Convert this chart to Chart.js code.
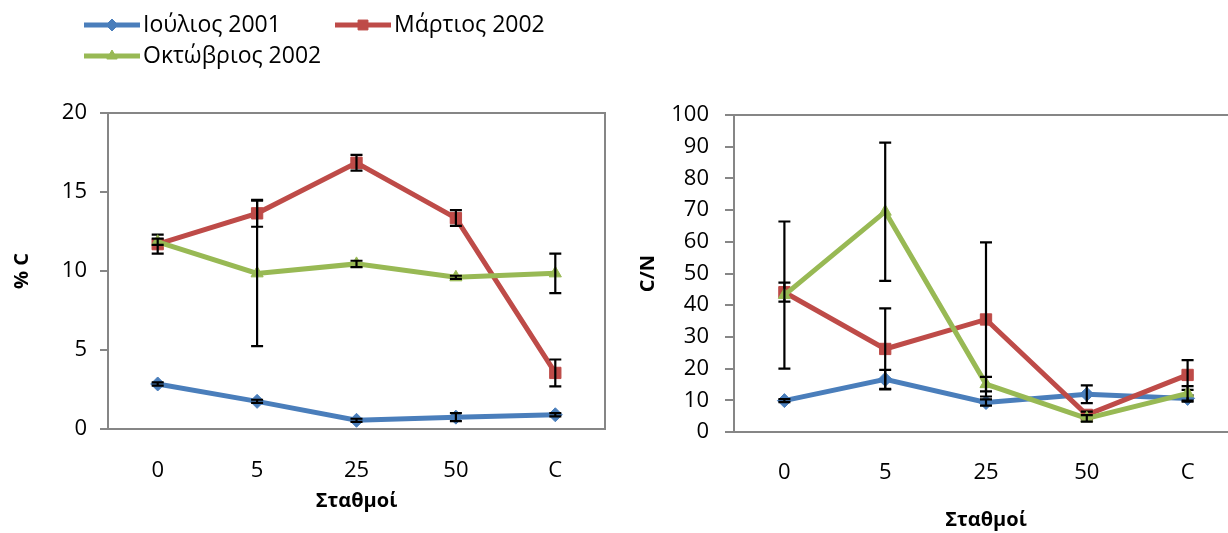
<!DOCTYPE html>
<html>
<head>
<meta charset="utf-8">
<script src="https://cdn.jsdelivr.net/npm/chart.js@4.4.0/dist/chart.umd.min.js"></script>
<style>
  html, body { margin: 0; padding: 0; background: #fff; overflow: hidden; width: 1228px; height: 533px; }
  #wrapC  { position: absolute; left: 0;     top: 0; width: 614px; height: 533px; }
  #wrapCN { position: absolute; left: 614px; top: 0; width: 640px; height: 533px; }
</style>
</head>
<body>
<div id="wrapC"><canvas id="chartC" width="614" height="533"></canvas></div>
<div id="wrapCN"><canvas id="chartCN" width="640" height="533"></canvas></div>
<script>
// Stations along the transect
const stations = ['0', '5', '25', '50', 'C'];
const seriesNames = ['Ιούλιος 2001', 'Μάρτιος 2002', 'Οκτώβριος 2002'];

// Organic carbon (% C)
const carbonJul01 = [2.85, 1.75, 0.55, 0.75, 0.9];
const carbonMar02 = [11.7, 13.65, 16.85, 13.35, 3.55];
const carbonOct02 = [11.85, 9.85, 10.45, 9.6, 9.85];
const carbonJul01Err = [0.1, 0.1, 0.1, 0.25, 0.1];
const carbonMar02Err = [0.6, 0.85, 0.5, 0.5, 0.85];
const carbonOct02Err = [0.2, 4.6, 0.2, 0.1, 1.25];

// C/N ratio
const cnJul01 = [9.9, 16.6, 9.3, 11.9, 10.6];
const cnMar02 = [44.1, 26.2, 35.5, 5.4, 18.0];
const cnOct02 = [43.2, 69.5, 15.1, 4.3, 12.2];
const cnJul01Err = [0.5, 3.0, 1.0, 2.8, 1.0];
const cnMar02Err = [3.0, 12.8, 24.3, 1.0, 4.7];
const cnOct02Err = [23.2, 21.8, 2.3, 1.0, 2.3];

// Axis ranges
const carbonTicks = { min: 0, max: 20, step: 5 };
const cnTicks = { min: 0, max: 100, step: 10 };

const COLORS = ['#4A7EBB', '#BE4B48', '#98B954'];
const POINT_STYLES = ['rectRot', 'rect', 'triangle'];
const POINT_RADII = [7, 8, 7];
const AXIS_GREY = '#868686';
const FONT = "'Open Sans', 'Noto Sans', sans-serif";

Chart.defaults.font.family = FONT;
Chart.defaults.color = '#000';

function makeDatasets(values, errors) {
  return values.map((v, i) => ({
    label: seriesNames[i],
    data: v,
    errors: errors[i],
    borderColor: COLORS[i],
    backgroundColor: COLORS[i],
    borderWidth: 5,
    pointStyle: POINT_STYLES[i],
    pointRadius: POINT_RADII[i],
    pointBorderWidth: 1,
    pointBorderColor: COLORS[i],
    pointBackgroundColor: COLORS[i],
    tension: 0,
    order: 3 - i
  }));
}

// Vertical error bars, drawn together with each series
const errorBarPlugin = {
  id: 'errorBars',
  afterDatasetDraw(chart, args) {
    const ds = chart.data.datasets[args.index];
    if (!ds.errors) return;
    const y = chart.scales.y;
    const ctx = chart.ctx;
    ctx.save();
    ctx.strokeStyle = '#000';
    ctx.lineWidth = 2.2;
    args.meta.data.forEach((pt, i) => {
      const v = ds.data[i], e = ds.errors[i];
      if (v == null || !e) return;
      const yt = y.getPixelForValue(v + e);
      const yb = y.getPixelForValue(v - e);
      const x = pt.x;
      ctx.beginPath();
      ctx.moveTo(x, yt); ctx.lineTo(x, yb);
      ctx.moveTo(x - 6, yt); ctx.lineTo(x + 6, yt);
      ctx.moveTo(x - 6, yb); ctx.lineTo(x + 6, yb);
      ctx.stroke();
    });
    ctx.restore();
  }
};

// Grey box around the plot area
const framePlugin = {
  id: 'plotFrame',
  beforeDatasetsDraw(chart) {
    const { left, top, right, bottom } = chart.chartArea;
    const ctx = chart.ctx;
    ctx.save();
    ctx.strokeStyle = AXIS_GREY;
    ctx.lineWidth = 2;
    ctx.strokeRect(left, top, right - left, bottom - top);
    ctx.restore();
  }
};

// Two-column legend with line-and-marker samples
const lineLegendPlugin = {
  id: 'lineLegend',
  afterDraw(chart, args, opts) {
    if (!opts.items) return;
    const ctx = chart.ctx;
    ctx.save();
    opts.items.forEach(item => {
      const ds = chart.data.datasets[item.dataset];
      ctx.strokeStyle = ds.borderColor;
      ctx.lineWidth = 5;
      ctx.beginPath();
      ctx.moveTo(item.x1, item.y);
      ctx.lineTo(item.x2, item.y);
      ctx.stroke();
      ctx.fillStyle = ds.backgroundColor;
      ctx.strokeStyle = ds.borderColor;
      ctx.lineWidth = 1;
      Chart.helpers.drawPoint(ctx, {
        pointStyle: ds.pointStyle,
        radius: ds.pointRadius - 1,
        rotation: 0,
        borderWidth: 1
      }, (item.x1 + item.x2) / 2, item.y);
      ctx.fillStyle = '#000';
      ctx.font = opts.font;
      ctx.textBaseline = 'middle';
      ctx.textAlign = 'left';
      ctx.fillText(ds.label, item.x2 + 3, item.y);
    });
    ctx.restore();
  }
};

function makeChart(canvasId, values, errors, range, cfg) {
  return new Chart(document.getElementById(canvasId), {
    type: 'line',
    data: { labels: stations, datasets: makeDatasets(values, errors) },
    plugins: [framePlugin, errorBarPlugin, lineLegendPlugin],
    options: {
      responsive: false,
      animation: false,
      layout: { padding: { top: cfg.top, right: cfg.right, left: 0, bottom: 0 } },
      plugins: {
        legend: { display: false },
        tooltip: { enabled: false },
        lineLegend: cfg.legend || {}
      },
      scales: {
        x: {
          offset: true,
          grid: { display: false, drawTicks: false },
          border: { display: false },
          ticks: { font: { size: 22 }, color: '#000', padding: cfg.xTickPad, maxRotation: 0 },
          title: {
            display: true, text: 'Σταθμοί', color: '#000',
            font: { size: 20, weight: 'bold' },
            padding: { top: 0, bottom: cfg.xTitlePad }
          },
          afterFit: s => { s.height = cfg.xHeight; }
        },
        y: {
          min: range.min, max: range.max,
          grid: { drawOnChartArea: false, tickLength: cfg.tickLen, color: AXIS_GREY, lineWidth: 2 },
          border: { display: false },
          ticks: { stepSize: range.step, font: { size: 22 }, color: '#000', padding: cfg.yTickPad },
          title: {
            display: true, text: cfg.yTitle, color: '#000',
            font: { size: 20, weight: 'bold' },
            padding: { top: cfg.yTitlePad, bottom: 0 }
          },
          afterFit: s => { s.width = cfg.yWidth; }
        }
      }
    }
  });
}

makeChart('chartC',
  [carbonJul01, carbonMar02, carbonOct02],
  [carbonJul01Err, carbonMar02Err, carbonOct02Err],
  carbonTicks,
  {
    top: 113, right: 1, xHeight: 104, yWidth: 108, tickLen: 8,
    xTickPad: 29, xTitlePad: 20, yTickPad: 13, yTitlePad: 10, yTitle: '% C',
    legend: {
      font: "23px " + FONT,
      items: [
        { dataset: 0, x1: 84, x2: 140, y: 25 },
        { dataset: 1, x1: 335, x2: 391, y: 25 },
        { dataset: 2, x1: 84, x2: 140, y: 56 }
      ]
    }
  });

makeChart('chartCN',
  [cnJul01, cnMar02, cnOct02],
  [cnJul01Err, cnMar02Err, cnOct02Err],
  cnTicks,
  {
    top: 115, right: 16, xHeight: 101, yWidth: 120, tickLen: 9,
    xTickPad: 28, xTitlePad: 1, yTickPad: 16, yTitlePad: 22, yTitle: 'C/N'
  });
</script>
</body>
</html>
